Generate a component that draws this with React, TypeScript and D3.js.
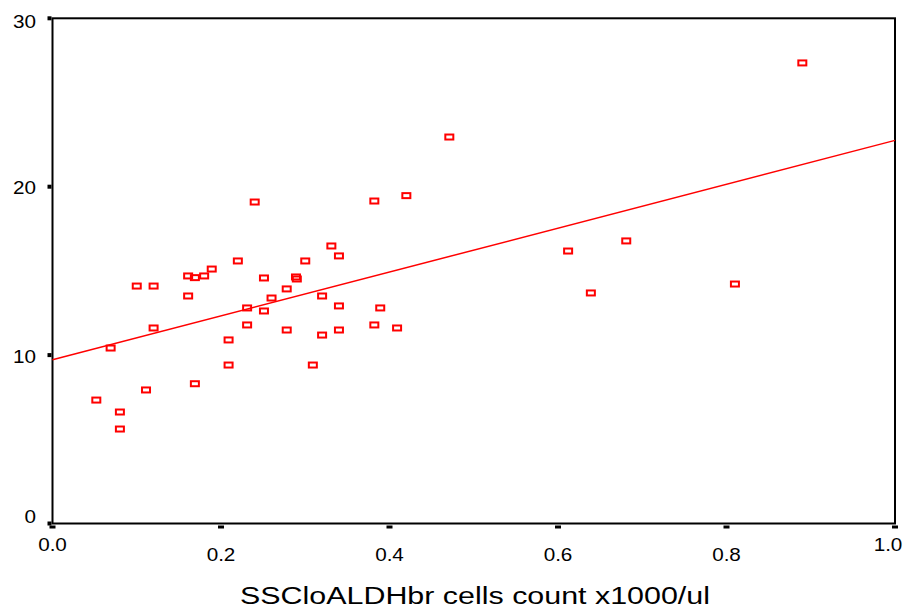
import * as d3 from 'd3';

// cell count (x1000/ul) and measured value for each case
const xValues = [
    0.052, 0.069, 0.08, 0.08, 0.1, 0.111, 0.12, 0.12, 0.161, 0.161, 0.169, 0.169,
    0.18, 0.189, 0.209, 0.209, 0.22, 0.231, 0.231, 0.24, 0.251, 0.251, 0.26, 0.278,
    0.278, 0.289, 0.29, 0.3, 0.309, 0.32, 0.32, 0.331, 0.34, 0.34, 0.34, 0.382,
    0.382, 0.389, 0.409, 0.42, 0.471, 0.612, 0.639, 0.681, 0.81, 0.89,
];
const yValues = [
    7.33, 10.42, 6.62, 5.61, 14.1, 7.93, 14.1, 11.61, 14.7, 13.51, 8.3, 14.6,
    14.7, 15.11, 10.9, 9.41, 15.59, 12.8, 11.79, 19.09, 14.58, 12.62, 13.39, 13.93,
    11.49, 14.64, 14.52, 15.59, 9.41, 13.51, 11.19, 16.48, 15.89, 12.92, 11.49, 19.15,
    11.79, 12.8, 11.61, 19.47, 22.95, 16.18, 13.69, 16.78, 14.22, 27.35,
];

// fitted line
const fitLine: [number, number][] = [[0, 9.72], [1, 22.75]];

const xTicks = [0, 0.2, 0.4, 0.6, 0.8, 1.0];
const yTicks = [0, 10, 20, 30];
const xTitle = 'SSCloALDHbr cells count x1000/ul';

export default function App() {
    const width = 909;
    const height = 609;
    const margin = { top: 18.3, right: 14, bottom: 85.5, left: 52.5 };

    const x = d3.scaleLinear().domain([0, 1]).range([margin.left, width - margin.right]);
    const y = d3.scaleLinear().domain([0, 30]).range([height - margin.bottom, margin.top]);

    const line = d3.line<[number, number]>()
        .x(d => x(d[0]))
        .y(d => y(d[1]));

    const points = xValues.map((v, i) => [v, yValues[i]]);
    const font = '"Liberation Sans", Arial, sans-serif';
    const [x0, x1] = x.range();
    const [yb, yt] = y.range();

    return (
        <svg width={width} height={height} style={{ position: 'absolute', left: 0, top: 0, background: '#fff' }}>
            {/* frame */}
            <rect x={x0} y={yt} width={x1 - x0} height={yb - yt} fill="none" stroke="#000" strokeWidth={2} />

            {/* y ticks */}
            {yTicks.map((t, i) => {
                const dy = i === 0 ? -7 : i === yTicks.length - 1 ? 3 : 1;
                return (
                    <g key={'y' + t}>
                        <rect x={x0 - 5} y={y(t) - 2} width={4} height={4} fill="#000" />
                        <g transform={`translate(36,${y(t) + dy}) scale(1.15,1)`}>
                            <text textAnchor="end" dominantBaseline="central" fontFamily={font} fontSize={18} fill="#000">{t}</text>
                        </g>
                    </g>
                );
            })}

            {/* x ticks */}
            {xTicks.map((t, i) => {
                const end = i === 0 || i === xTicks.length - 1;
                const cx = i === xTicks.length - 1 ? x(t) - 7 : x(t);
                return (
                    <g key={'x' + t}>
                        <rect x={x(t) - 3} y={yb + 2} width={6} height={3} fill="#000" />
                        <g transform={`translate(${cx},${yb + (end ? 21.5 : 31)}) scale(1.15,1)`}>
                            <text textAnchor="middle" dominantBaseline="central" fontFamily={font} fontSize={18} fill="#000">{t.toFixed(1)}</text>
                        </g>
                    </g>
                );
            })}

            {/* fit line */}
            <path d={line(fitLine) ?? ''} fill="none" stroke="#ff0000" strokeWidth={1.5} />

            {/* points */}
            {points.map((p, i) => (
                <rect key={i} x={x(p[0]) - 4} y={y(p[1]) - 2.5} width={8} height={5}
                    fill="none" stroke="#ff0000" strokeWidth={2} />
            ))}

            <text x={475} y={604} textAnchor="middle" fontFamily={font} fontSize={23}
                textLength={470} lengthAdjust="spacingAndGlyphs" fill="#000">{xTitle}</text>
        </svg>
    );
}
